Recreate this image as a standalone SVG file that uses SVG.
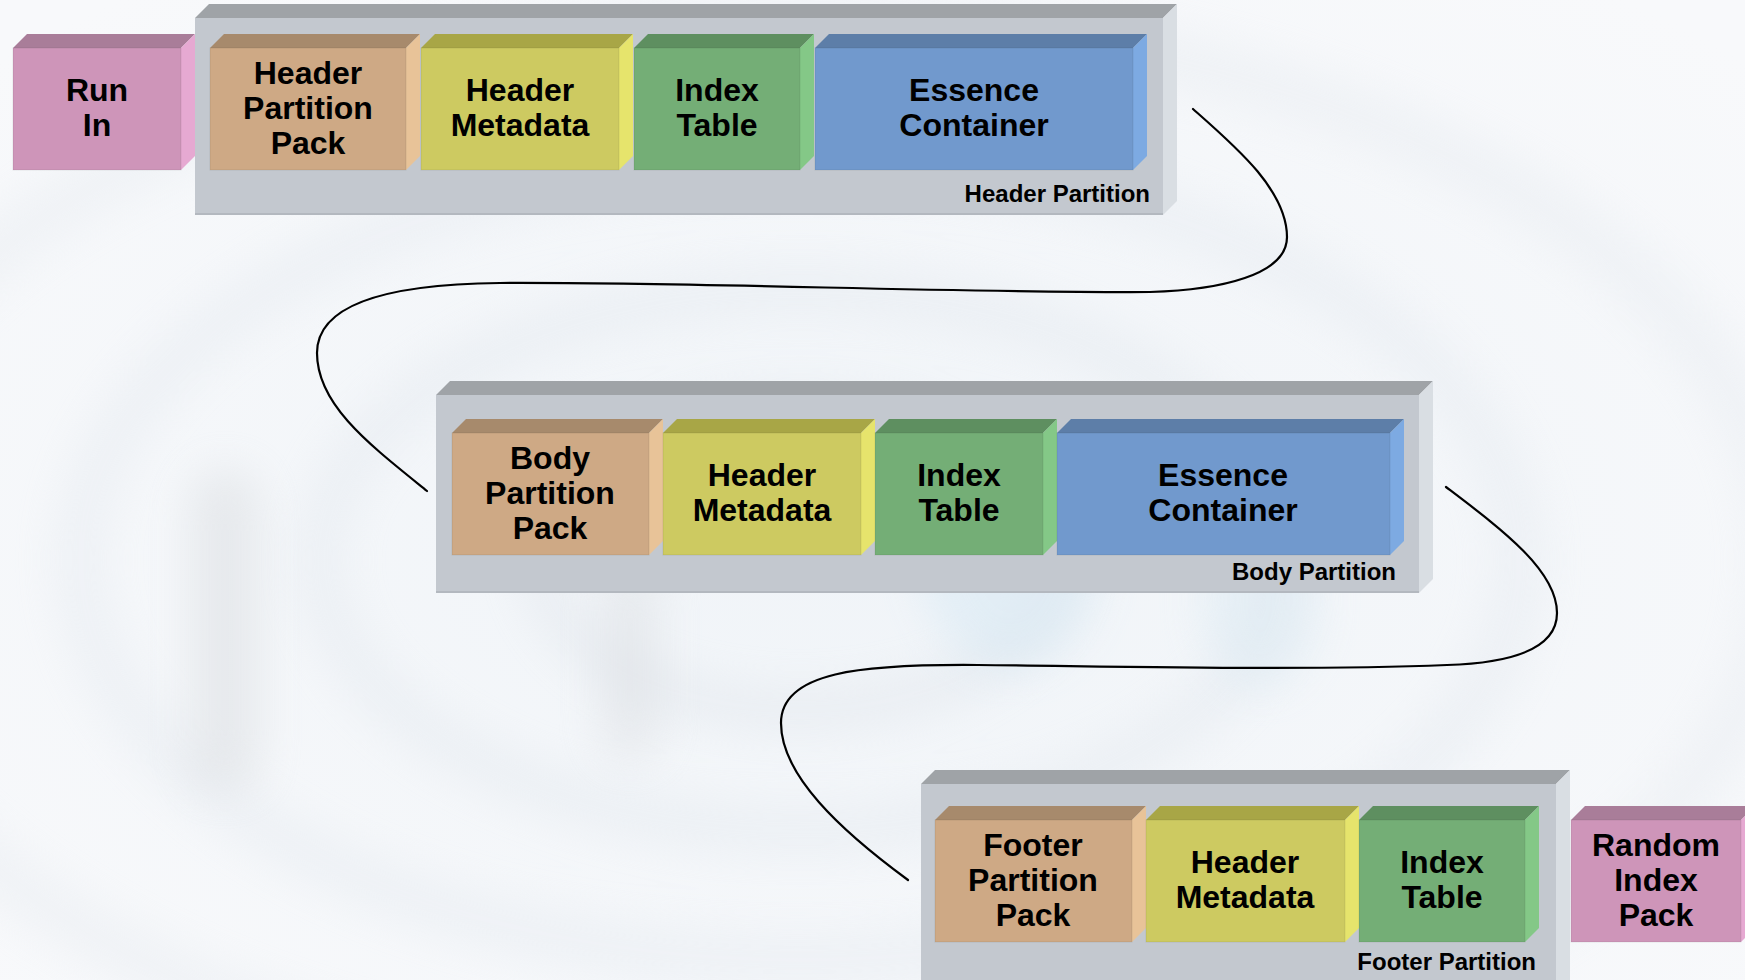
<svg xmlns="http://www.w3.org/2000/svg" width="1745" height="980" viewBox="0 0 1745 980">
  <defs>
    <filter id="soft" x="-20%" y="-20%" width="140%" height="140%">
      <feGaussianBlur stdDeviation="22"/>
    </filter>
    <radialGradient id="bgGlow" cx="0.5" cy="0.55" r="0.7">
      <stop offset="0" stop-color="#F0F4F8"/>
      <stop offset="1" stop-color="#F8F9FB"/>
    </radialGradient>
    <style>
      .lbl { font-family: "Liberation Sans", Arial, sans-serif; font-weight: bold; font-size: 32px; fill: #000; text-anchor: middle; }
      .plbl { font-family: "Liberation Sans", Arial, sans-serif; font-weight: bold; font-size: 24px; fill: #000; text-anchor: end; }
      .link { fill: none; stroke: #000; stroke-width: 2.2; stroke-linecap: round; }
      .pink .f { fill: #CE95B9; } .pink .t { fill: #A97D99; } .pink .r { fill: #E6A9D2; }
      .tan .f { fill: #CEA985; } .tan .t { fill: #A78A6C; } .tan .r { fill: #E8C398; }
      .yel .f { fill: #CDCA61; } .yel .t { fill: #A8A646; } .yel .r { fill: #E6E46C; }
      .grn .f { fill: #74AE76; } .grn .t { fill: #5E8F60; } .grn .r { fill: #84C887; }
      .blu .f { fill: #7199CD; } .blu .t { fill: #5D7EA8; } .blu .r { fill: #7DAAE2; }
      .box .f { stroke: rgba(0,0,0,0.08); stroke-width: 1; }
      .cont .f { fill: #C3C8CF; } .cont .t { fill: #9FA3A7; } .cont .r { fill: #D9DEE3; }
      .cont .edge { fill: #B3B8BF; }
    </style>
  </defs>

  <!-- soft rippled backdrop -->
  <g id="backdrop">
    <rect width="1745" height="980" fill="url(#bgGlow)"/>
    <g filter="url(#soft)" fill="none" opacity="0.35">
      <ellipse cx="800" cy="560" rx="260" ry="150" stroke="#D8DEE5" stroke-width="40"/>
      <ellipse cx="800" cy="560" rx="480" ry="270" stroke="#DDE3EA" stroke-width="46"/>
      <ellipse cx="800" cy="560" rx="720" ry="400" stroke="#DFE5EC" stroke-width="50"/>
      <ellipse cx="800" cy="560" rx="980" ry="540" stroke="#E2E7ED" stroke-width="55"/>
    </g>
    <g filter="url(#soft)" opacity="0.45">
      <rect x="190" y="470" width="70" height="320" rx="30" fill="#D6D9DD"/>
      <rect x="600" y="560" width="60" height="200" rx="25" fill="#DADDE1"/>
      <ellipse cx="1010" cy="560" rx="90" ry="110" fill="#D2E6F3"/>
      <ellipse cx="1260" cy="600" rx="60" ry="90" fill="#D8E8F2"/>
    </g>
  </g>

  <!-- connectors between partitions -->
  <g id="connectors">
    <path class="link" d="M1193,109 C1235,146 1287,190 1287,237 C1287,275 1220,290 1150,292 C950,293 700,282 500,283 C400,284 317,300 317,353 C317,405 370,445 427,491"/>
    <path class="link" d="M1446,487 C1500,528 1557,570 1557,613 C1557,650 1510,663 1447,665 C1300,671 1100,666 978,665 C860,664 781,672 781,723 C781,775 840,830 908,880"/>
  </g>

  <!-- Header partition row -->
  <g id="run-in" class="box pink">
    <polygon class="t" points="13,48 27,34 195,34 181,48"/>
    <polygon class="r" points="181,48 195,34 195,156 181,170"/>
    <rect class="f" x="13" y="48" width="168" height="122"/>
    <text class="lbl" x="97" y="101">Run</text>
    <text class="lbl" x="97" y="136">In</text>
  </g>

  <g id="header-partition" class="cont">
    <polygon class="t" points="195,18 209,4 1177,4 1163,18"/>
    <polygon class="r" points="1163,18 1177,4 1177,201 1163,215"/>
    <rect class="f" x="195" y="18" width="968" height="197"/>
    <rect class="edge" x="195" y="213" width="968" height="2"/>
    <text class="plbl" x="1150" y="202">Header Partition</text>
  </g>

  <g id="hp-partition-pack" class="box tan">
    <polygon class="t" points="210,48 224,34 420,34 406,48"/>
    <polygon class="r" points="406,48 420,34 420,156 406,170"/>
    <rect class="f" x="210" y="48" width="196" height="122"/>
    <text class="lbl" x="308" y="83.5">Header</text>
    <text class="lbl" x="308" y="118.5">Partition</text>
    <text class="lbl" x="308" y="153.5">Pack</text>
  </g>

  <g id="hp-header-metadata" class="box yel">
    <polygon class="t" points="421,48 435,34 633,34 619,48"/>
    <polygon class="r" points="619,48 633,34 633,156 619,170"/>
    <rect class="f" x="421" y="48" width="198" height="122"/>
    <text class="lbl" x="520" y="101">Header</text>
    <text class="lbl" x="520" y="136">Metadata</text>
  </g>

  <g id="hp-index-table" class="box grn">
    <polygon class="t" points="634,48 648,34 814,34 800,48"/>
    <polygon class="r" points="800,48 814,34 814,156 800,170"/>
    <rect class="f" x="634" y="48" width="166" height="122"/>
    <text class="lbl" x="717" y="101">Index</text>
    <text class="lbl" x="717" y="136">Table</text>
  </g>

  <g id="hp-essence" class="box blu">
    <polygon class="t" points="815,48 829,34 1147,34 1133,48"/>
    <polygon class="r" points="1133,48 1147,34 1147,156 1133,170"/>
    <rect class="f" x="815" y="48" width="318" height="122"/>
    <text class="lbl" x="974" y="101">Essence</text>
    <text class="lbl" x="974" y="136">Container</text>
  </g>

  <!-- Body partition row -->
  <g id="body-partition" class="cont">
    <polygon class="t" points="436,395 450,381 1433,381 1419,395"/>
    <polygon class="r" points="1419,395 1433,381 1433,579 1419,593"/>
    <rect class="f" x="436" y="395" width="983" height="198"/>
    <rect class="edge" x="436" y="591" width="983" height="2"/>
    <text class="plbl" x="1396" y="580">Body Partition</text>
  </g>

  <g id="bp-partition-pack" class="box tan">
    <polygon class="t" points="452,433 466,419 663,419 649,433"/>
    <polygon class="r" points="649,433 663,419 663,541 649,555"/>
    <rect class="f" x="452" y="433" width="197" height="122"/>
    <text class="lbl" x="550" y="468.5">Body</text>
    <text class="lbl" x="550" y="503.5">Partition</text>
    <text class="lbl" x="550" y="538.5">Pack</text>
  </g>

  <g id="bp-header-metadata" class="box yel">
    <polygon class="t" points="663,433 677,419 875,419 861,433"/>
    <polygon class="r" points="861,433 875,419 875,541 861,555"/>
    <rect class="f" x="663" y="433" width="198" height="122"/>
    <text class="lbl" x="762" y="486">Header</text>
    <text class="lbl" x="762" y="521">Metadata</text>
  </g>

  <g id="bp-index-table" class="box grn">
    <polygon class="t" points="875,433 889,419 1057,419 1043,433"/>
    <polygon class="r" points="1043,433 1057,419 1057,541 1043,555"/>
    <rect class="f" x="875" y="433" width="168" height="122"/>
    <text class="lbl" x="959" y="486">Index</text>
    <text class="lbl" x="959" y="521">Table</text>
  </g>

  <g id="bp-essence" class="box blu">
    <polygon class="t" points="1057,433 1071,419 1404,419 1390,433"/>
    <polygon class="r" points="1390,433 1404,419 1404,541 1390,555"/>
    <rect class="f" x="1057" y="433" width="333" height="122"/>
    <text class="lbl" x="1223" y="486">Essence</text>
    <text class="lbl" x="1223" y="521">Container</text>
  </g>

  <!-- Footer partition row -->
  <g id="footer-partition" class="cont">
    <polygon class="t" points="921,784 935,770 1570,770 1556,784"/>
    <polygon class="r" points="1556,784 1570,770 1570,980 1556,994"/>
    <rect class="f" x="921" y="784" width="635" height="210"/>
    <text class="plbl" x="1536" y="970">Footer Partition</text>
  </g>

  <g id="fp-partition-pack" class="box tan">
    <polygon class="t" points="935,820 949,806 1146,806 1132,820"/>
    <polygon class="r" points="1132,820 1146,806 1146,928 1132,942"/>
    <rect class="f" x="935" y="820" width="197" height="122"/>
    <text class="lbl" x="1033" y="855.5">Footer</text>
    <text class="lbl" x="1033" y="890.5">Partition</text>
    <text class="lbl" x="1033" y="925.5">Pack</text>
  </g>

  <g id="fp-header-metadata" class="box yel">
    <polygon class="t" points="1146,820 1160,806 1359,806 1345,820"/>
    <polygon class="r" points="1345,820 1359,806 1359,928 1345,942"/>
    <rect class="f" x="1146" y="820" width="199" height="122"/>
    <text class="lbl" x="1245" y="873">Header</text>
    <text class="lbl" x="1245" y="908">Metadata</text>
  </g>

  <g id="fp-index-table" class="box grn">
    <polygon class="t" points="1359,820 1373,806 1539,806 1525,820"/>
    <polygon class="r" points="1525,820 1539,806 1539,928 1525,942"/>
    <rect class="f" x="1359" y="820" width="166" height="122"/>
    <text class="lbl" x="1442" y="873">Index</text>
    <text class="lbl" x="1442" y="908">Table</text>
  </g>

  <g id="random-index-pack" class="box pink">
    <polygon class="t" points="1571,820 1585,806 1755,806 1741,820"/>
    <polygon class="r" points="1741,820 1755,806 1755,928 1741,942"/>
    <rect class="f" x="1571" y="820" width="170" height="122"/>
    <text class="lbl" x="1656" y="855.5">Random</text>
    <text class="lbl" x="1656" y="890.5">Index</text>
    <text class="lbl" x="1656" y="925.5">Pack</text>
  </g>
</svg>
